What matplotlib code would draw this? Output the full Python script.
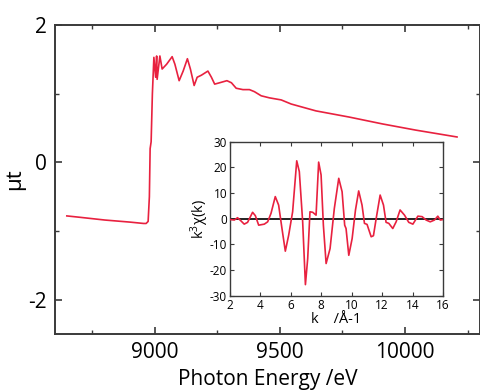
import matplotlib
matplotlib.use("Agg")
import matplotlib.pyplot as plt
from matplotlib.ticker import MultipleLocator

plt.rcParams['font.family'] = ['Open Sans', 'DejaVu Sans']
plt.rcParams['mathtext.fontset'] = 'custom'
plt.rcParams['mathtext.rm'] = 'Open Sans'
plt.rcParams['mathtext.it'] = 'Open Sans'
plt.rcParams['axes.unicode_minus'] = False

# Main XAFS spectrum (photon energy / eV, mu t)
energy = [8648, 8700, 8800, 8900, 8955, 8965, 8973, 8978, 8981, 8985, 8990, 8996,
          9003, 9007, 9009, 9020, 9029, 9047, 9069, 9080, 9097, 9113, 9130, 9142,
          9157, 9169, 9186, 9212, 9226, 9239, 9259, 9288, 9306, 9325, 9352, 9378,
          9398, 9425, 9458, 9505, 9545, 9644, 9777, 9910, 10043, 10208]
mut = [-0.78, -0.80, -0.84, -0.87, -0.89, -0.89, -0.86, -0.5, 0.2, 0.3, 1.0, 1.53,
       1.24, 1.55, 1.21, 1.55, 1.36, 1.43, 1.54, 1.43, 1.19, 1.33, 1.51, 1.36,
       1.12, 1.24, 1.27, 1.33, 1.24, 1.14, 1.16, 1.19, 1.16, 1.08, 1.06, 1.06,
       1.03, 0.97, 0.94, 0.91, 0.85, 0.75, 0.66, 0.56, 0.47, 0.37]

# Inset EXAFS k^3 chi(k)
k = [2.0, 2.29, 2.5, 2.72, 2.94, 3.16, 3.49, 3.67, 3.89, 4.26, 4.48, 4.70, 4.98, 5.20,
     5.42, 5.64, 5.86, 6.12, 6.39, 6.56, 6.78, 6.96, 7.11, 7.26, 7.44, 7.66, 7.83,
     7.99, 8.14, 8.32, 8.58, 8.86, 9.15, 9.37, 9.54, 9.63, 9.81, 10.03, 10.25, 10.46,
     10.68, 10.84, 11.01, 11.28, 11.43, 11.61, 11.87, 12.09, 12.26, 12.44, 12.70,
     12.92, 13.18, 13.47, 13.75, 14.02, 14.35, 14.63, 14.89, 15.16, 15.44, 15.66,
     15.82, 16.0]
k3chi = [-0.3, -0.5, 0.4, -0.8, -2.1, -1.4, 2.5, 1.2, -2.5, -2.1, -1.2, 2.1, 8.6, 5.3,
         -3.8, -12.6, -6.4, 2.7, 22.5, 18.3, -1.2, -25.6, -15.5, 2.7, 2.5, 1.4, 22.0,
         17.0, -2.5, -17.4, -11.6, 4.0, 15.7, 10.5, -2.5, -3.8, -14.2, -7.7, 3.4, 10.8,
         5.3, -1.8, -2.2, -7.0, -6.6, 0.1, 9.2, 5.3, -1.4, -1.8, -3.8, -1.2, 3.4, 1.4,
         -1.4, -2.1, 1.0, 0.8, -0.5, -1.2, -0.5, 1.0, -0.5, -0.3]

red = '#e8213f'
spine_c = '#3a3a3a'

fig = plt.figure(figsize=(4.81, 3.92), dpi=100)
ax = fig.add_axes([0.114, 0.148, 0.884, 0.788])
ax.plot(energy, mut, color=red, lw=1.2)
ax.set_xlim(8600, 10300)
ax.set_ylim(-2.5, 2)
ax.xaxis.set_major_locator(MultipleLocator(500))
ax.xaxis.set_minor_locator(MultipleLocator(250))
ax.yaxis.set_major_locator(MultipleLocator(2))
ax.yaxis.set_minor_locator(MultipleLocator(1))
ax.tick_params(which='both', direction='in', top=True, right=True, color=spine_c)
ax.tick_params(which='major', length=5, width=1.2, labelsize=15, pad=6)
ax.tick_params(which='minor', length=3, width=1.0)
for s in ax.spines.values():
    s.set_linewidth(1.4)
    s.set_color(spine_c)
ax.set_xlabel('Photon Energy /eV', fontsize=15, labelpad=4)
ax.set_ylabel('μt', fontsize=16, labelpad=2)

ins = fig.add_axes([0.478, 0.245, 0.443, 0.394])
ins.plot(k, k3chi, color=red, lw=1.2, zorder=3)
ins.axhline(0, color='#222222', lw=1.4, zorder=2)
ins.set_xlim(2, 16)
ins.set_ylim(-30, 30)
ins.xaxis.set_major_locator(MultipleLocator(2))
ins.yaxis.set_major_locator(MultipleLocator(10))
ins.tick_params(which='both', direction='in', top=True, right=True, color=spine_c,
                length=3, width=0.8, labelsize=8.5, pad=2)
for s in ins.spines.values():
    s.set_linewidth(1.0)
    s.set_color(spine_c)
ins.set_xlabel('k    /Å-1', fontsize=10.5, labelpad=0)
ins.set_ylabel(r'k$^3$$\chi$(k)', fontsize=10.5, labelpad=-1)

fig.savefig('out.png', dpi=100)
